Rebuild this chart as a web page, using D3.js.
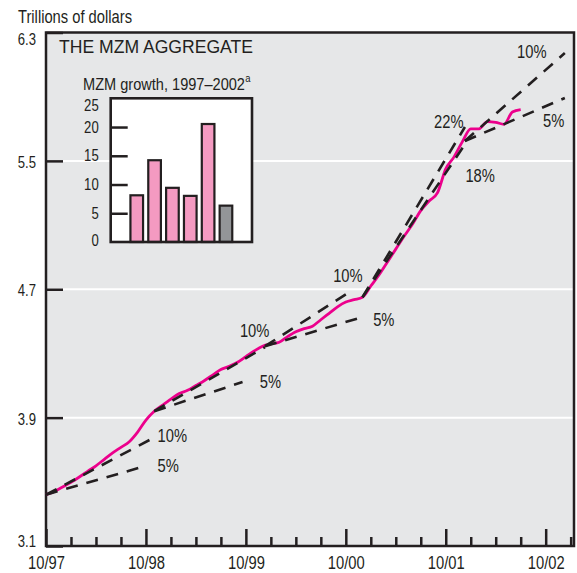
<!DOCTYPE html>
<html><head><meta charset="utf-8">
<script src="https://cdn.jsdelivr.net/npm/d3@7"></script>
<style>
body{margin:0;background:#fff;}
svg text{font-family:"Liberation Sans",Arial,sans-serif;fill:#231f20;}
</style></head><body>
<svg id="chart" width="577" height="573"></svg>
<script>
// ---- data ----
// month index: 0 = Oct 1997
const mzmMonths = d3.range(0, 58);
const mzmValues = [3.42,3.44,3.468,3.497,3.53,3.565,3.60,3.64,3.68,3.715,
  3.75,3.81,3.885,3.94,3.978,4.015,4.05,4.07,4.10,4.13,
  4.165,4.20,4.22,4.245,4.28,4.315,4.345,4.36,4.37,4.405,
  4.435,4.455,4.47,4.51,4.55,4.59,4.62,4.635,4.65,4.72,
  4.79,4.87,4.95,5.03,5.105,5.19,5.25,5.30,5.45,5.525,
  5.62,5.70,5.70,5.745,5.74,5.728,5.805,5.82];
const xTickMonths = d3.range(0, 64, 3);
const xLabelMonths = [0, 12, 24, 36, 48, 60];
const xTickLabels = ["10/97","10/98","10/99","10/00","10/01","10/02"];
const yTicks = [3.1, 3.9, 4.7, 5.5, 6.3];
const yTickLabels = ["3.1","3.9","4.7","5.5","6.3"];
const growthYears = ["1997","1998","1999","2000","2001","2002"];
const growthValues = [8.3, 14.4, 9.6, 8.2, 20.7, 6.5];
const growthPartial = [false,false,false,false,false,true];
const insetTicks = [0, 5, 10, 15, 20, 25];
// trend lines: [month, value] endpoints and label anchors
const trendFrom = [[0,3.42],[0,3.42],[13,3.94],[13,3.94],[26.3,4.345],[26.3,4.345],[38,4.65],[38,4.65],[50.3,5.624],[50.3,5.624]];
const trendTo   = [[11.5,3.592],[13.1,3.779],[23.6,4.122],[26.3,4.34],[38.0,4.527],[36.8,4.695],[50.3,5.711],[50.4,5.611],[62.3,5.892],[62.3,6.172]];
const trendLabels = ["5%","10%","5%","10%","5%","10%","22%","18%","5%","10%"];
const trendLabelAt = [[13.4,3.563],[13.4,3.75],[25.68,4.083],[23.28,4.40],[39.28,4.473],[34.48,4.747],[46.6,5.703],[50.36,5.37],[59.68,5.713],[56.56,6.139]];

// ---- layout ----
const svg = d3.select("#chart");
const L = 46, R = 574, T = 32.5, B = 546;
const ink = "#231f20";
const x = d3.scaleLinear().domain([0, 63.4]).range([L, R]);
const y = d3.scaleLinear().domain([3.1, 6.3]).range([B, T]);

svg.append("rect").attr("x", L).attr("y", T).attr("width", R - L).attr("height", B - T).attr("fill", "#e6e7e8");

// white gridlines
svg.append("g").selectAll("line").data(yTicks.slice(1, -1)).join("line")
  .attr("x1", L).attr("x2", R).attr("y1", d => y(d)).attr("y2", d => y(d))
  .attr("stroke", "#fff").attr("stroke-width", 2);

// y axis ticks (inward) and labels
const yAxis = d3.axisLeft(y).tickValues(yTicks).tickFormat((d, i) => yTickLabels[i]).tickSize(-17).tickPadding(10);
const gy = svg.append("g").attr("transform", `translate(${L},0)`).call(yAxis);
gy.select(".domain").remove();
gy.selectAll(".tick line").attr("stroke", ink).attr("stroke-width", 2.5);
gy.selectAll(".tick text").attr("font-size", 16).attr("fill", ink).attr("font-family", null)
  .attr("dy", (d, i) => i === 0 ? "0.02em" : (i === yTicks.length - 1 ? "0.75em" : "0.42em"));

// x axis ticks
const xMinor = d3.axisBottom(x).tickValues(xTickMonths.filter(m => m % 12 !== 0)).tickFormat("").tickSize(-9);
const gxm = svg.append("g").attr("transform", `translate(0,${B})`).call(xMinor);
gxm.select(".domain").remove();
gxm.selectAll(".tick line").attr("stroke", ink).attr("stroke-width", 2.5);
const xMajor = d3.axisBottom(x).tickValues(xLabelMonths).tickFormat((d, i) => xTickLabels[i]).tickSize(-17).tickPadding(10);
const gx = svg.append("g").attr("transform", `translate(0,${B})`).call(xMajor);
gx.select(".domain").remove();
gx.selectAll(".tick line").attr("stroke", ink).attr("stroke-width", 2.5);
gx.selectAll(".tick text").attr("font-size", 18).attr("fill", ink).attr("font-family", null);

// frame
svg.append("rect").attr("x", L).attr("y", T).attr("width", R - L).attr("height", B - T)
  .attr("fill", "none").attr("stroke", ink).attr("stroke-width", 2.5);

// axis title
svg.append("text").attr("x", 18).attr("y", 23).attr("font-size", 17.5).attr("textLength", 114).attr("lengthAdjust", "spacingAndGlyphs").text("Trillions of dollars");

// panel title
svg.append("text").attr("x", 59).attr("y", 53).attr("font-size", 18.5).attr("textLength", 194).attr("lengthAdjust", "spacingAndGlyphs").text("THE MZM AGGREGATE");

// ---- inset bar chart ----
const iL = 110.7, iR = 252, iT = 98.3, iB = 242;
const ix = d3.scaleBand().domain(growthYears).range([iL, iR]).paddingInner(0.18).paddingOuter(1.05);
const iy = d3.scaleLinear().domain([0, 25]).range([iB, iT]);
svg.append("rect").attr("x", iL).attr("y", iT).attr("width", iR - iL).attr("height", iB - iT)
  .attr("fill", "#fff");
// inset title: one text with superscript, condensed by a horizontal scale
const insetTitle = svg.append("text").attr("class", "scaled").attr("x", 0).attr("y", 0).attr("font-size", 17);
const mainSpan = insetTitle.append("tspan").text("MZM growth, 1997\u20132002");
insetTitle.append("tspan").attr("font-size", 11).attr("dy", -8).attr("dx", 0.5).text("a");
const mainW = mainSpan.node().getComputedTextLength();
insetTitle.attr("transform", `translate(83,90) scale(${(162 / mainW).toFixed(4)},1)`);

const iAxis = d3.axisLeft(iy).tickValues(insetTicks).tickSize(-17).tickPadding(12);
const giy = svg.append("g").attr("transform", `translate(${iL},0)`).call(iAxis);
giy.select(".domain").remove();
giy.selectAll(".tick line").attr("stroke", ink).attr("stroke-width", 2.5).attr("display", d => (d === 0 || d === 25) ? "none" : null);
giy.selectAll(".tick text").attr("font-size", 16).attr("fill", ink).attr("font-family", null)
  .attr("dy", d => d === 25 ? "0.75em" : (d === 0 ? "0.2em" : "0.32em"));
svg.append("g").selectAll("rect").data(growthValues).join("rect")
  .attr("x", (d, i) => ix(growthYears[i]) + 1)
  .attr("width", ix.bandwidth() - 2)
  .attr("y", d => iy(d) + 1)
  .attr("height", d => iB - iy(d) - 1)
  .attr("fill", (d, i) => growthPartial[i] ? "#939598" : "#f49ac1")
  .attr("stroke", ink).attr("stroke-width", 2.2);
svg.append("rect").attr("x", iL).attr("y", iT).attr("width", iR - iL).attr("height", iB - iT)
  .attr("fill", "none").attr("stroke", ink).attr("stroke-width", 2.6);

// ---- MZM line ----
const line = d3.line().x(d => x(d[0])).y(d => y(d[1])).curve(d3.curveMonotoneX);
svg.append("path").datum(mzmMonths.map((m, i) => [m, mzmValues[i]]))
  .attr("d", line).attr("fill", "none").attr("stroke", "#ec008c").attr("stroke-width", 2.8)
  .attr("stroke-linejoin", "round");

// ---- trend lines ----
svg.append("g").selectAll("line").data(trendFrom).join("line")
  .attr("x1", d => x(d[0])).attr("y1", d => y(d[1]))
  .attr("x2", (d, i) => x(trendTo[i][0])).attr("y2", (d, i) => y(trendTo[i][1]))
  .attr("stroke", ink).attr("stroke-width", 2.6).attr("stroke-dasharray", "12,9");
svg.append("g").selectAll("text").data(trendLabels).join("text")
  .attr("x", (d, i) => x(trendLabelAt[i][0])).attr("y", (d, i) => y(trendLabelAt[i][1]))
  .attr("font-size", 18).attr("fill", "#3a3a3a").text(d => d);

// condense all remaining text (narrow face look)
svg.selectAll("text").each(function () {
  if (this.getAttribute("textLength") || this.classList.contains("scaled")) return;
  const w = this.getComputedTextLength();
  this.setAttribute("textLength", (w * 0.82).toFixed(1));
  this.setAttribute("lengthAdjust", "spacingAndGlyphs");
});
</script>
</body></html>
